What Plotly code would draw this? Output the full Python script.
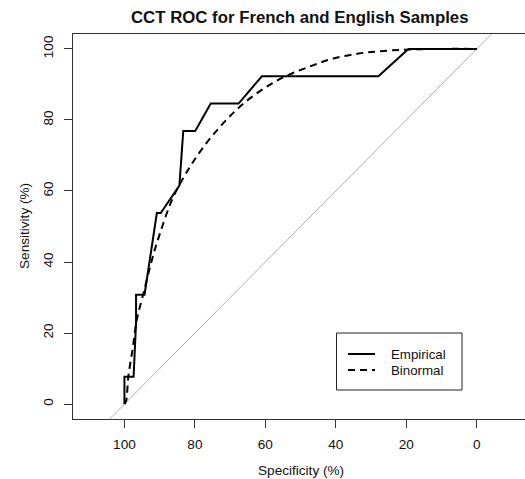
import plotly.graph_objects as go

# Empirical ROC (specificity %, sensitivity %)
emp_spec = [100, 100, 97.4, 96.7, 96.7, 94.3, 90.8, 89.7, 84.4, 83.3, 79.9, 75.5, 67.6, 61.0, 27.9, 19.4, 0]
emp_sens = [0, 7.7, 7.7, 23.1, 30.8, 30.8, 53.8, 53.8, 61.5, 76.9, 76.9, 84.6, 84.6, 92.3, 92.3, 100, 100]

# Binormal smoothed ROC
bin_spec = [100, 99.5, 98.9, 97.6, 96.5, 94.6, 92.2, 89.9, 86.1, 81.4, 78.0, 74.5, 70.5, 66.0, 60.5, 54.9, 47.5, 40.7, 33.5, 28.0, 20.0, 10.0, 0]
bin_sens = [0, 1.0, 7.7, 16.0, 23.7, 31.2, 40.6, 48.1, 58.4, 66.8, 71.8, 76.2, 80.6, 84.8, 88.8, 92.0, 95.0, 97.3, 98.7, 99.3, 99.8, 100, 100]

# chance diagonal
diag_spec = [120, -20]
diag_sens = [100 - s for s in diag_spec]

x_ticks = [100, 80, 60, 40, 20, 0]
y_ticks = [0, 20, 40, 60, 80, 100]

W, H = 525, 479
L, R, T, B = 73, 0, 34, 60
PW, PH = W - L - R, H - T - B

def px(x):
    return (x - L) / PW

def py(y):
    return 1 - (y - T) / PH

FONT = "Liberation Sans, Arial, sans-serif"

fig = go.Figure()
fig.add_trace(go.Scatter(x=diag_spec, y=diag_sens, mode="lines",
                         line=dict(color="#b0b0b0", width=1), showlegend=False, hoverinfo="skip"))
fig.add_trace(go.Scatter(x=bin_spec, y=bin_sens, mode="lines", line_shape="spline",
                         line=dict(color="black", width=2, dash="7px,5px"), name="Binormal", showlegend=False))
fig.add_trace(go.Scatter(x=emp_spec, y=emp_sens, mode="lines",
                         line=dict(color="black", width=2), name="Empirical", showlegend=False))

axis_common = dict(
    showgrid=False, zeroline=False, showline=True, linecolor="#333", linewidth=1,
    ticks="outside", ticklen=8, tickcolor="#333", tickwidth=1,
    tickfont=dict(family=FONT, size=13.6, color="#111"),
)
fig.update_xaxes(range=[114.6, -13.7], tickvals=x_ticks, mirror=True, ticklabelstandoff=5, **axis_common)
fig.update_yaxes(range=[-4.2, 104.2], tickvals=y_ticks, tickangle=-90, ticklabelstandoff=6, **axis_common)

shapes = [
    dict(type="rect", xref="paper", yref="paper", x0=px(336.5), x1=px(462), y0=py(390), y1=py(333),
         line=dict(color="#222", width=1), fillcolor="white"),
    dict(type="line", xref="paper", yref="paper", x0=px(348), x1=px(375), y0=py(354), y1=py(354),
         line=dict(color="black", width=2)),
    dict(type="line", xref="paper", yref="paper", x0=px(348), x1=px(375), y0=py(370), y1=py(370),
         line=dict(color="black", width=2, dash="7px,5px")),
]
annotations = [
    dict(text="Empirical", xref="paper", yref="paper", x=px(389), y=py(354), xanchor="left", yanchor="middle",
         showarrow=False, font=dict(family=FONT, size=13.3, color="#111")),
    dict(text="Binormal", xref="paper", yref="paper", x=px(389), y=py(370), xanchor="left", yanchor="middle",
         showarrow=False, font=dict(family=FONT, size=13.3, color="#111")),
    dict(text="Specificity (%)", xref="paper", yref="paper", x=px(301), y=py(470), xanchor="center", yanchor="middle",
         showarrow=False, font=dict(family=FONT, size=13.6, color="#111")),
    dict(text="Sensitivity (%)", xref="paper", yref="paper", x=px(25), y=py(226), xanchor="center", yanchor="middle",
         textangle=-90, showarrow=False, font=dict(family=FONT, size=13.6, color="#111")),
    dict(text="<b>CCT ROC for French and English Samples</b>", xref="paper", yref="paper", x=px(300), y=py(18),
         xanchor="center", yanchor="middle", showarrow=False, font=dict(family=FONT, size=16.8, color="#111")),
]

fig.update_layout(
    width=W, height=H, margin=dict(l=L, r=R, t=T, b=B),
    paper_bgcolor="white", plot_bgcolor="white",
    shapes=shapes, annotations=annotations, showlegend=False,
)

fig.write_html("out.html")
